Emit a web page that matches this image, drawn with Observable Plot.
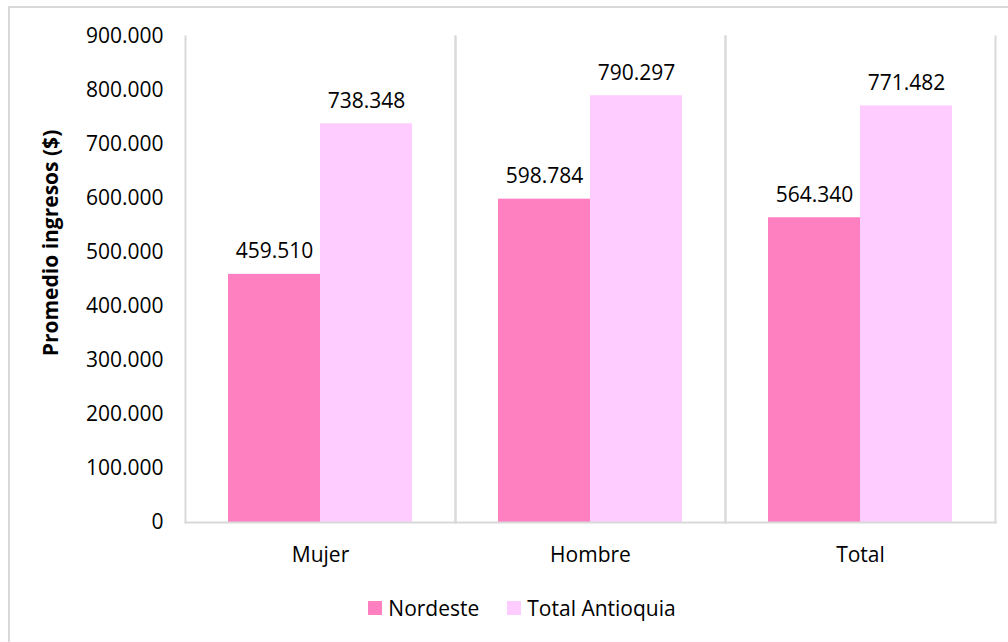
<!DOCTYPE html>
<html>
<head>
<meta charset="utf-8">
<script src="https://cdn.jsdelivr.net/npm/d3@7"></script>
<script src="https://cdn.jsdelivr.net/npm/@observablehq/plot@0.6"></script>
<style>
  html, body { margin: 0; padding: 0; background: #fff; }
  body { width: 1008px; height: 642px; position: relative; overflow: hidden; font-family: "Open Sans", sans-serif; }
  #border { position: absolute; left: 8px; top: 6px; width: 1010px; height: 650px; border: 2px solid #D9D9D9; box-sizing: border-box; }
  #chart { position: absolute; left: 0; top: 0; }
  #chart svg { overflow: visible; }
  #ylabel { position: absolute; left: 50px; top: 243px; transform: translate(-50%, -50%) rotate(-90deg); white-space: nowrap; font-weight: bold; font-size: 21px; color: #000; }
  #legend { position: absolute; top: 594px; left: 18px; width: 1008px; display: flex; justify-content: center; gap: 28px; font-size: 21px; color: #000; }
  #legend .item { display: flex; align-items: center; }
  #legend .sw { width: 14px; height: 14px; margin-right: 6px; display: inline-block; }
</style>
</head>
<body>
<div id="border"></div>
<div id="chart"></div>
<div id="ylabel">Promedio ingresos ($)</div>
<div id="legend"></div>
<script>
const categories = ["Mujer", "Hombre", "Total"];
const series = ["Nordeste", "Total Antioquia"];
const nordeste = [459510, 598784, 564340];
const antioquia = [738348, 790297, 771482];
const colors = ["#FF80C0", "#FFCCFF"];
const yTicks = [0, 100000, 200000, 300000, 400000, 500000, 600000, 700000, 800000, 900000];

const data = [];
categories.forEach((c, i) => {
  data.push({cat: c, series: series[0], value: nordeste[i]});
  data.push({cat: c, series: series[1], value: antioquia[i]});
});

const fmt = v => v === 0 ? "0" : d3.format(",")(v).replace(/,/g, ".");

const plot = Plot.plot({
  width: 1008,
  height: 580,
  marginLeft: 184,
  marginRight: 12,
  marginTop: 36,
  marginBottom: 58,
  style: {fontFamily: "Open Sans", fontSize: "21px", color: "#000", background: "transparent"},
  fx: {domain: categories, padding: 0, label: null},
  x: {domain: series, paddingInner: 0, paddingOuter: 0.455, axis: null},
  y: {domain: [0, 900000]},
  color: {domain: series, range: colors},
  marks: [
    Plot.frame({anchor: "left", stroke: "#D9D9D9", strokeWidth: 2, strokeOpacity: 1}),
    Plot.frame({anchor: "right", stroke: "#D9D9D9", strokeWidth: 2, strokeOpacity: 1}),
    Plot.barY(data, {fx: "cat", x: "series", y: "value", fill: "series"}),
    Plot.frame({anchor: "bottom", stroke: "#D9D9D9", strokeWidth: 2, strokeOpacity: 1}),
    Plot.text(data, {fx: "cat", x: "series", y: "value", text: d => fmt(d.value), lineAnchor: "bottom", dy: -16, fontSize: 21, fill: "#000"}),
    Plot.axisFx({anchor: "bottom", tickSize: 0, tickPadding: 25, label: null, fontSize: 21}),
    Plot.axisY({ticks: yTicks, tickFormat: fmt, tickSize: 0, tickPadding: 22, fontSize: 21, label: null})
  ]
});
document.getElementById("chart").appendChild(plot);

const legend = document.getElementById("legend");
series.forEach((s, i) => {
  const item = document.createElement("div");
  item.className = "item";
  const sw = document.createElement("span");
  sw.className = "sw";
  sw.style.background = colors[i];
  const t = document.createElement("span");
  t.textContent = s;
  item.appendChild(sw);
  item.appendChild(t);
  legend.appendChild(item);
});
</script>
</body>
</html>
